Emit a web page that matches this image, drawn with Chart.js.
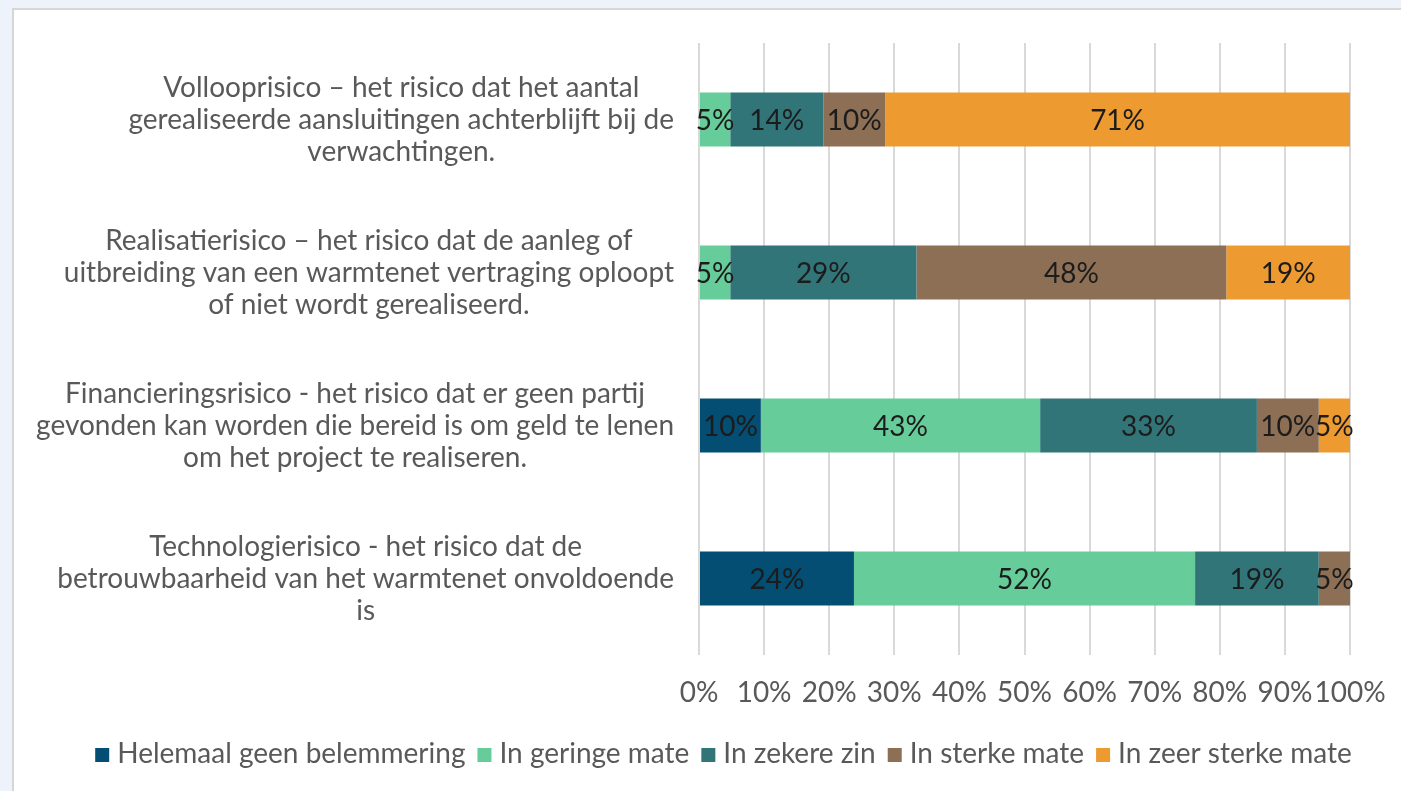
<!DOCTYPE html>
<html>
<head>
<meta charset="utf-8">
<script src="https://cdn.jsdelivr.net/npm/chart.js@4.4.1/dist/chart.umd.min.js"></script>
<style>
  html, body { margin: 0; padding: 0; width: 1401px; height: 791px; overflow: hidden; background: #eef2fa; }
  #frame { position: absolute; left: 12px; top: 8px; width: 1400px; height: 800px; background: #ffffff;
           border-left: 2px solid #d6d6d6; border-top: 2px solid #d6d6d6; }
  #chart { position: absolute; left: 0; top: 0; }
</style>
</head>
<body>
<div id="frame"><canvas id="chart"></canvas></div>
<script>
// Risk categories (wrapped as drawn, one array of lines per category)
const categories = [
  ["Vollooprisico \u2013 het risico dat het aantal", "gerealiseerde aansluitingen achterblijft bij de", "verwachtingen."],
  ["Realisatierisico \u2013 het risico dat de aanleg of", "uitbreiding van een warmtenet vertraging oploopt", "of niet wordt gerealiseerd."],
  ["Financieringsrisico - het risico dat er geen partij", "gevonden kan worden die bereid is om geld te lenen", "om het project te realiseren."],
  ["Technologierisico - het risico dat de", "betrouwbaarheid van het warmtenet onvoldoende", "is"]
];

const seriesNames = ["Helemaal geen belemmering", "In geringe mate", "In zekere zin", "In sterke mate", "In zeer sterke mate"];

// Share of respondents per answer (%)
const helemaalGeen = [0, 0, 9.5, 23.8];
const geringeMate  = [4.8, 4.8, 42.9, 52.4];
const zekereZin    = [14.3, 28.6, 33.3, 19.0];
const sterkeMate   = [9.5, 47.6, 9.5, 4.8];
const zeerSterke   = [71.4, 19.0, 4.8, 0];

const xTickValues = [0, 10, 20, 30, 40, 50, 60, 70, 80, 90, 100];

const seriesColors = ["#034e72", "#66cd9a", "#327579", "#8c6f54", "#ed9a30"];

const FONT = "Lato, 'Open Sans', sans-serif";
const FONT_SIZE = 28;
const TEXT_GREY = '#595959';
const W = 1387, H = 781;

const canvas = document.getElementById('chart');
canvas.width = W; canvas.height = H;
canvas.style.width = W + 'px'; canvas.style.height = H + 'px';

// Category labels: each block centred on its widest line, right-aligned to the axis
const categoryLabels = {
  id: 'categoryLabels',
  afterDraw(chart) {
    const ctx = chart.ctx, yScale = chart.scales.y;
    const right = chart.chartArea.left - 25;
    const lineH = 32;
    ctx.save();
    ctx.font = FONT_SIZE + 'px ' + FONT;
    ctx.fillStyle = TEXT_GREY;
    ctx.textAlign = 'center';
    ctx.textBaseline = 'middle';
    categories.forEach((lines, i) => {
      const cy = yScale.getPixelForValue(i);
      const maxW = Math.max(...lines.map(l => ctx.measureText(l).width));
      const x = right - maxW / 2;
      lines.forEach((l, j) => ctx.fillText(l, x, cy + (j - (lines.length - 1) / 2) * lineH));
    });
    ctx.restore();
  }
};

// Percentage labels in the middle of each segment
const segmentLabels = {
  id: 'segmentLabels',
  afterDatasetsDraw(chart) {
    const ctx = chart.ctx;
    ctx.save();
    ctx.font = FONT_SIZE + 'px ' + FONT;
    ctx.fillStyle = '#1c1c1c';
    ctx.textAlign = 'center';
    ctx.textBaseline = 'middle';
    chart.data.datasets.forEach((ds, di) => {
      const meta = chart.getDatasetMeta(di);
      meta.data.forEach((bar, i) => {
        const v = ds.data[i];
        if (!v) return;
        const p = bar.getCenterPoint();
        ctx.fillText(Math.round(v) + '%', p.x, p.y + 1);
      });
    });
    ctx.restore();
  }
};

// Single-row legend under the axis: square swatch, small gap, series name
const bottomLegend = {
  id: 'bottomLegend',
  afterDraw(chart) {
    const ctx = chart.ctx;
    const box = 14, boxGap = 8, itemGap = 12, cy = 744;
    ctx.save();
    ctx.font = FONT_SIZE + 'px ' + FONT;
    ctx.textBaseline = 'middle';
    ctx.textAlign = 'left';
    const widths = chart.data.datasets.map(ds => ctx.measureText(ds.label).width);
    const total = widths.reduce((s, w) => s + box + boxGap + w, 0) + itemGap * (widths.length - 1);
    let x = 709.5 - total / 2;
    chart.data.datasets.forEach((ds, i) => {
      ctx.fillStyle = ds.backgroundColor;
      ctx.fillRect(x, cy - box / 2 + 1, box, box);
      ctx.fillStyle = TEXT_GREY;
      ctx.fillText(ds.label, x + box + boxGap, cy);
      x += box + boxGap + widths[i] + itemGap;
    });
    ctx.restore();
  }
};

const seriesValues = [helemaalGeen, geringeMate, zekereZin, sterkeMate, zeerSterke];

new Chart(canvas, {
  type: 'bar',
  data: {
    labels: categories,
    datasets: seriesNames.map((name, i) => ({
      label: name,
      data: seriesValues[i],
      backgroundColor: seriesColors[i],
      borderWidth: 0,
      barPercentage: 1,
      categoryPercentage: 0.354
    }))
  },
  options: {
    indexAxis: 'y',
    responsive: false,
    animation: false,
    devicePixelRatio: 1,
    layout: { padding: { left: 0, right: 51, top: 33, bottom: 0 } },
    scales: {
      x: {
        stacked: true,
        min: 0, max: 100,
        afterBuildTicks(scale) { scale.ticks = xTickValues.map(v => ({ value: v })); },
        afterFit(scale) {
          scale.height = 136;
          scale.paddingLeft = 0;
          scale.paddingRight = 0;
        },
        ticks: {
          autoSkip: false, maxRotation: 0, minRotation: 0, padding: 21,
          color: TEXT_GREY,
          font: { family: FONT, size: FONT_SIZE },
          callback: v => v + '%'
        },
        grid: { color: '#d9d9d9', lineWidth: 2, drawTicks: false },
        border: { display: false }
      },
      y: {
        stacked: true,
        afterFit(scale) { scale.width = 685; },
        ticks: { display: false },
        grid: { display: false, drawTicks: false },
        border: { display: false }
      }
    },
    plugins: {
      tooltip: { enabled: false },
      legend: { display: false }
    }
  },
  plugins: [categoryLabels, segmentLabels, bottomLegend]
});
</script>
</body>
</html>
